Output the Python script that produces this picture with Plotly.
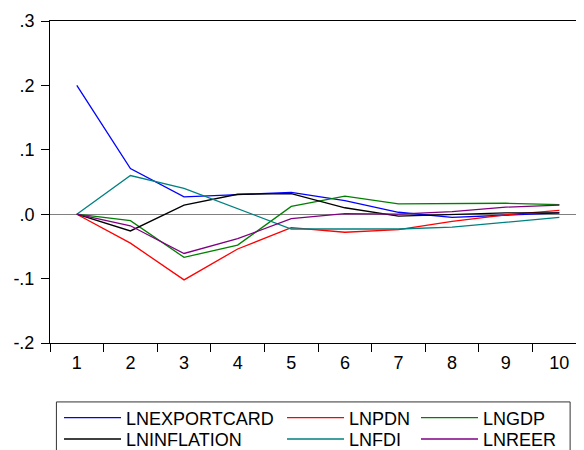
import plotly.graph_objects as go

periods = [1, 2, 3, 4, 5, 6, 7, 8, 9, 10]
period_labels = ["1", "2", "3", "4", "5", "6", "7", "8", "9", "10"]

lnexportcard = [0.200, 0.071, 0.027, 0.030, 0.034, 0.021, 0.003, -0.005, -0.001, 0.002]
lnpdn = [0.0, -0.045, -0.102, -0.054, -0.021, -0.028, -0.024, -0.011, -0.001, 0.006]
lngdp = [0.0, -0.010, -0.067, -0.048, 0.012, 0.028, 0.016, 0.016, 0.017, 0.015]
lninflation = [0.0, -0.026, 0.014, 0.031, 0.032, 0.010, -0.003, 0.000, 0.002, 0.002]
lnfdi = [0.0, 0.060, 0.040, 0.008, -0.023, -0.023, -0.023, -0.020, -0.012, -0.005]
lnreer = [0.0, -0.018, -0.061, -0.038, -0.007, 0.001, 0.000, 0.004, 0.011, 0.014]

y_tickvals = [-0.2, -0.1, 0.0, 0.1, 0.2, 0.3]
y_ticktext = ["-.2", "-.1", ".0", ".1", ".2", ".3"]

series = [
    ("LNEXPORTCARD", lnexportcard, "#0000FF", "legend"),
    ("LNPDN", lnpdn, "#FF0000", "legend2"),
    ("LNGDP", lngdp, "#008000", "legend3"),
    ("LNINFLATION", lninflation, "#000000", "legend4"),
    ("LNFDI", lnfdi, "#008080", "legend5"),
    ("LNREER", lnreer, "#800080", "legend6"),
]

FONT = "Liberation Sans, Arial, sans-serif"

fig = go.Figure()
for name, vals, color, leg in series:
    fig.add_trace(go.Scatter(
        x=periods, y=vals, mode="lines", name=name,
        line=dict(color=color, width=1.3), legend=leg,
    ))

# legend positions (paper coords)
col_x = [0.0169, 0.4345, 0.6854]
row_y = [-0.2325, -0.2990]
legend_layout = {}
keys = ["legend", "legend2", "legend3", "legend4", "legend5", "legend6"]
for i, k in enumerate(keys):
    legend_layout[k] = dict(
        x=col_x[i % 3], y=row_y[i // 3], xanchor="left", yanchor="middle",
        orientation="v", bgcolor="rgba(0,0,0,0)", borderwidth=0,
        itemwidth=57, font=dict(family=FONT, size=18, color="black"),
    )

fig.update_layout(
    width=576, height=442,
    margin=dict(l=42, r=0, t=13, b=107, autoexpand=False),
    paper_bgcolor="white", plot_bgcolor="white",
    font=dict(family=FONT, size=18, color="black"),
    showlegend=True,
    **legend_layout,
)

fig.update_xaxes(
    range=[0.5, 10.46],
    tickmode="array", tickvals=periods, ticktext=period_labels,
    ticks="outside", ticklen=3, tickcolor="rgba(0,0,0,0)",
    minor=dict(tickmode="array", tickvals=[p - 0.5 for p in periods] + [10.5],
               ticks="outside", ticklen=8, tickcolor="black", tickwidth=1),
    showgrid=False, zeroline=False,
    showline=True, linecolor="black", linewidth=1, mirror=True,
    tickfont=dict(family=FONT, size=18, color="black"),
)
fig.update_yaxes(
    range=[-0.2, 0.3],
    tickmode="array", tickvals=y_tickvals, ticktext=y_ticktext,
    ticks="outside", ticklen=8, tickcolor="black", tickwidth=1,
    ticklabelstandoff=3,
    showgrid=False,
    zeroline=True, zerolinecolor="#808080", zerolinewidth=1,
    showline=True, linecolor="black", linewidth=1, mirror=True,
    tickfont=dict(family=FONT, size=18, color="black"),
)

# legend frame
fig.add_shape(type="rect", xref="paper", yref="paper",
              x0=0.012, x1=0.974, y0=-0.183, y1=-0.37,
              line=dict(color="#333333", width=1), fillcolor="rgba(0,0,0,0)")

fig.write_html("out.html")
